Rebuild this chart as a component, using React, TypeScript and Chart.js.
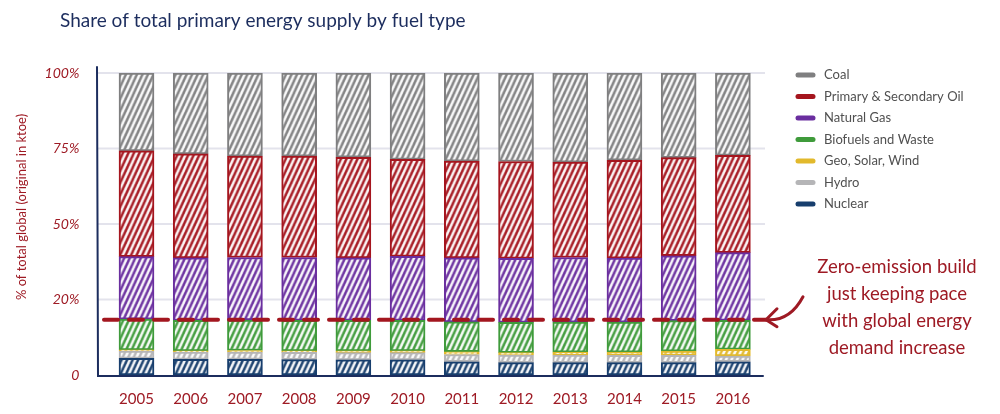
import React, { useEffect, useRef } from 'react';
import { Chart, registerables } from 'chart.js';

Chart.register(...registerables);

const years = ['2005', '2006', '2007', '2008', '2009', '2010', '2011', '2012', '2013', '2014', '2015', '2016'];
const nuclear = [5.5, 5.2, 5.2, 5.1, 5.0, 5.0, 4.4, 4.1, 4.1, 4.1, 4.1, 4.4];
const hydro = [2.4, 2.4, 2.4, 2.4, 2.4, 2.4, 2.4, 2.5, 2.5, 2.4, 2.4, 1.9];
const geoSolarWind = [0.4, 0.4, 0.5, 0.5, 0.6, 0.6, 0.9, 0.8, 1.0, 1.1, 1.4, 2.2];
const biofuels = [10.2, 10.1, 10.1, 10.1, 10.1, 10.1, 9.9, 10.0, 9.9, 9.9, 10.1, 9.6];
const naturalGas = [20.7, 20.7, 20.7, 20.8, 20.7, 21.2, 21.2, 21.2, 21.4, 21.2, 21.5, 22.4];
const oil = [35.0, 34.4, 33.6, 33.6, 33.3, 32.1, 32.0, 32.1, 31.6, 32.4, 32.5, 32.2];
const coal = [25.8, 26.8, 27.5, 27.5, 27.9, 28.6, 29.2, 29.3, 29.5, 28.9, 28.0, 27.3];

const seriesLabels = ['Nuclear', 'Hydro', 'Geo, Solar, Wind', 'Biofuels and Waste', 'Natural Gas', 'Primary & Secondary Oil', 'Coal'];
const seriesColors = ['#173e6d', '#b5b5b7', '#e2b92c', '#3f9b3b', '#6a2e9f', '#a5151e', '#7f7f80'];
const seriesValues = [nuclear, hydro, geoSolarWind, biofuels, naturalGas, oil, coal];

const yTickLabels = ['0', '20%', '50%', '75%', '100%'];
const thresholdValue = 18.3;
const titleText = 'Share of total primary energy supply by fuel type';
const yTitleText = '% of total global (original in ktoe)';
const annotationLines = ['Zero-emission build', 'just keeping pace', 'with global energy', 'demand increase'];

const FONT = 'Lato, "Open Sans", sans-serif';
const RED = '#9e1a24';
const NAVY = '#1c2d5e';

function makeHatch(ctx: CanvasRenderingContext2D, color: string): CanvasPattern | string {
  const c = document.createElement('canvas');
  c.width = 6;
  c.height = 6;
  const g = c.getContext('2d');
  if (!g) return color;
  g.fillStyle = '#ffffff';
  g.fillRect(0, 0, 6, 6);
  g.strokeStyle = color;
  g.lineWidth = 2.1;
  g.beginPath();
  g.moveTo(-1, 7); g.lineTo(7, -1);
  g.moveTo(-1, 1); g.lineTo(1, -1);
  g.moveTo(5, 7); g.lineTo(7, 5);
  g.stroke();
  const p = ctx.createPattern(c, 'repeat');
  if (!p) return color;
  p.setTransform(new DOMMatrix([0.92, 0, 0, 2.0, 0, 0]));
  return p;
}

const decorPlugin = {
  id: 'decor',
  beforeDatasetsDraw(chart: any) {
    const { ctx, scales } = chart;
    const y = scales.y;
    ctx.save();
    ctx.strokeStyle = '#e3e3ec';
    ctx.lineWidth = 2;
    y.ticks.forEach((t: any) => {
      if (t.value === 0) return;
      const py = y.getPixelForValue(t.value);
      ctx.beginPath();
      ctx.moveTo(98, py);
      ctx.lineTo(765, py);
      ctx.stroke();
    });
    ctx.restore();
  },
  afterDatasetsDraw(chart: any) {
    const { ctx, scales, chartArea } = chart;
    const y = scales.y;
    ctx.save();
    // axes
    ctx.strokeStyle = NAVY;
    ctx.lineWidth = 2;
    ctx.lineCap = 'round';
    ctx.beginPath();
    ctx.moveTo(97, 67);
    ctx.lineTo(98, chartArea.bottom + 1);
    ctx.lineTo(763, chartArea.bottom + 1);
    ctx.stroke();

    // threshold dashed line
    const ty = y.getPixelForValue(thresholdValue);
    ctx.strokeStyle = '#a3161f';
    ctx.lineWidth = 4;
    ctx.setLineDash([14, 11]);
    ctx.lineCap = 'round';
    ctx.beginPath();
    ctx.moveTo(104, ty);
    ctx.lineTo(766, ty);
    ctx.stroke();
    ctx.setLineDash([]);

    // arrow
    ctx.strokeStyle = RED;
    ctx.lineWidth = 3;
    ctx.beginPath();
    ctx.moveTo(803, ty - 23);
    ctx.quadraticCurveTo(790, ty + 1.5, 767, ty);
    ctx.stroke();
    ctx.beginPath();
    ctx.moveTo(777, ty - 11);
    ctx.lineTo(766, ty);
    ctx.lineTo(777, ty + 7);
    ctx.stroke();

    // annotation
    ctx.fillStyle = RED;
    ctx.font = `18.5px ${FONT}`;
    ctx.textAlign = 'center';
    ctx.textBaseline = 'middle';
    annotationLines.forEach((line, i) => {
      ctx.fillText(line, 897, 267 + i * 27);
    });

    // title
    ctx.fillStyle = NAVY;
    ctx.font = `19px ${FONT}`;
    ctx.textAlign = 'left';
    ctx.fillText(titleText, 60, 21);

    // y-axis title
    ctx.save();
    ctx.translate(22, 207);
    ctx.rotate(-Math.PI / 2);
    ctx.fillStyle = RED;
    ctx.font = `13px ${FONT}`;
    ctx.textAlign = 'center';
    ctx.fillText(yTitleText, 0, 0);
    ctx.restore();

    // legend (top to bottom: reverse of stacking)
    const ds = chart.data.datasets.slice().reverse();
    ds.forEach((d: any, i: number) => {
      const ly = 75 + i * 21.5;
      ctx.strokeStyle = d.borderColor;
      ctx.lineWidth = 5;
      ctx.lineCap = 'round';
      ctx.beginPath();
      ctx.moveTo(798, ly);
      ctx.lineTo(813, ly);
      ctx.stroke();
      ctx.fillStyle = '#505050';
      ctx.font = `13px ${FONT}`;
      ctx.textAlign = 'left';
      ctx.textBaseline = 'middle';
      ctx.fillText(d.label, 824, ly);
    });
    ctx.restore();
  },
};

export default function App() {
  const ref = useRef<HTMLCanvasElement | null>(null);

  useEffect(() => {
    const canvas = ref.current;
    if (!canvas) return;
    const ctx = canvas.getContext('2d');
    if (!ctx) return;
    const datasets = seriesValues.map((vals, i) => ({
      label: seriesLabels[i],
      data: vals,
      backgroundColor: makeHatch(ctx, seriesColors[i]),
      borderColor: seriesColors[i],
      borderWidth: 2,
      borderSkipped: false as const,
      barThickness: 35,
    }));
    const chart = new Chart(ctx, {
      type: 'bar',
      data: { labels: years, datasets },
      options: {
        responsive: false,
        animation: false,
        devicePixelRatio: 1,
        layout: { padding: { top: 73, right: 240, left: 0, bottom: 0 } },
        plugins: {
          legend: { display: false },
          tooltip: { enabled: false },
          title: { display: false },
        },
        scales: {
          x: {
            stacked: true,
            offset: true,
            grid: { display: false },
            border: { display: false },
            ticks: { color: RED, font: { family: FONT, size: 15 }, padding: 7 },
            afterFit: (s: any) => { s.height = 39; },
          },
          y: {
            stacked: true,
            min: 0,
            max: 100,
            grid: { display: false },
            border: { display: false },
            ticks: {
              stepSize: 25,
              color: RED,
              font: { family: FONT, size: 14, style: 'italic' },
              padding: 22,
              callback: (v: any) => yTickLabels[Math.round(Number(v) / 25)] ?? '',
            },
            afterFit: (s: any) => { s.width = 109.4; },
          },
        },
      },
      plugins: [decorPlugin],
    });
    return () => chart.destroy();
  }, []);

  return (
    <div style={{ position: 'absolute', left: 0, top: 0, width: 1000, height: 414, background: '#ffffff' }}>
      <canvas ref={ref} width={1000} height={414} style={{ display: 'block', width: 1000, height: 414 }} />
    </div>
  );
}
